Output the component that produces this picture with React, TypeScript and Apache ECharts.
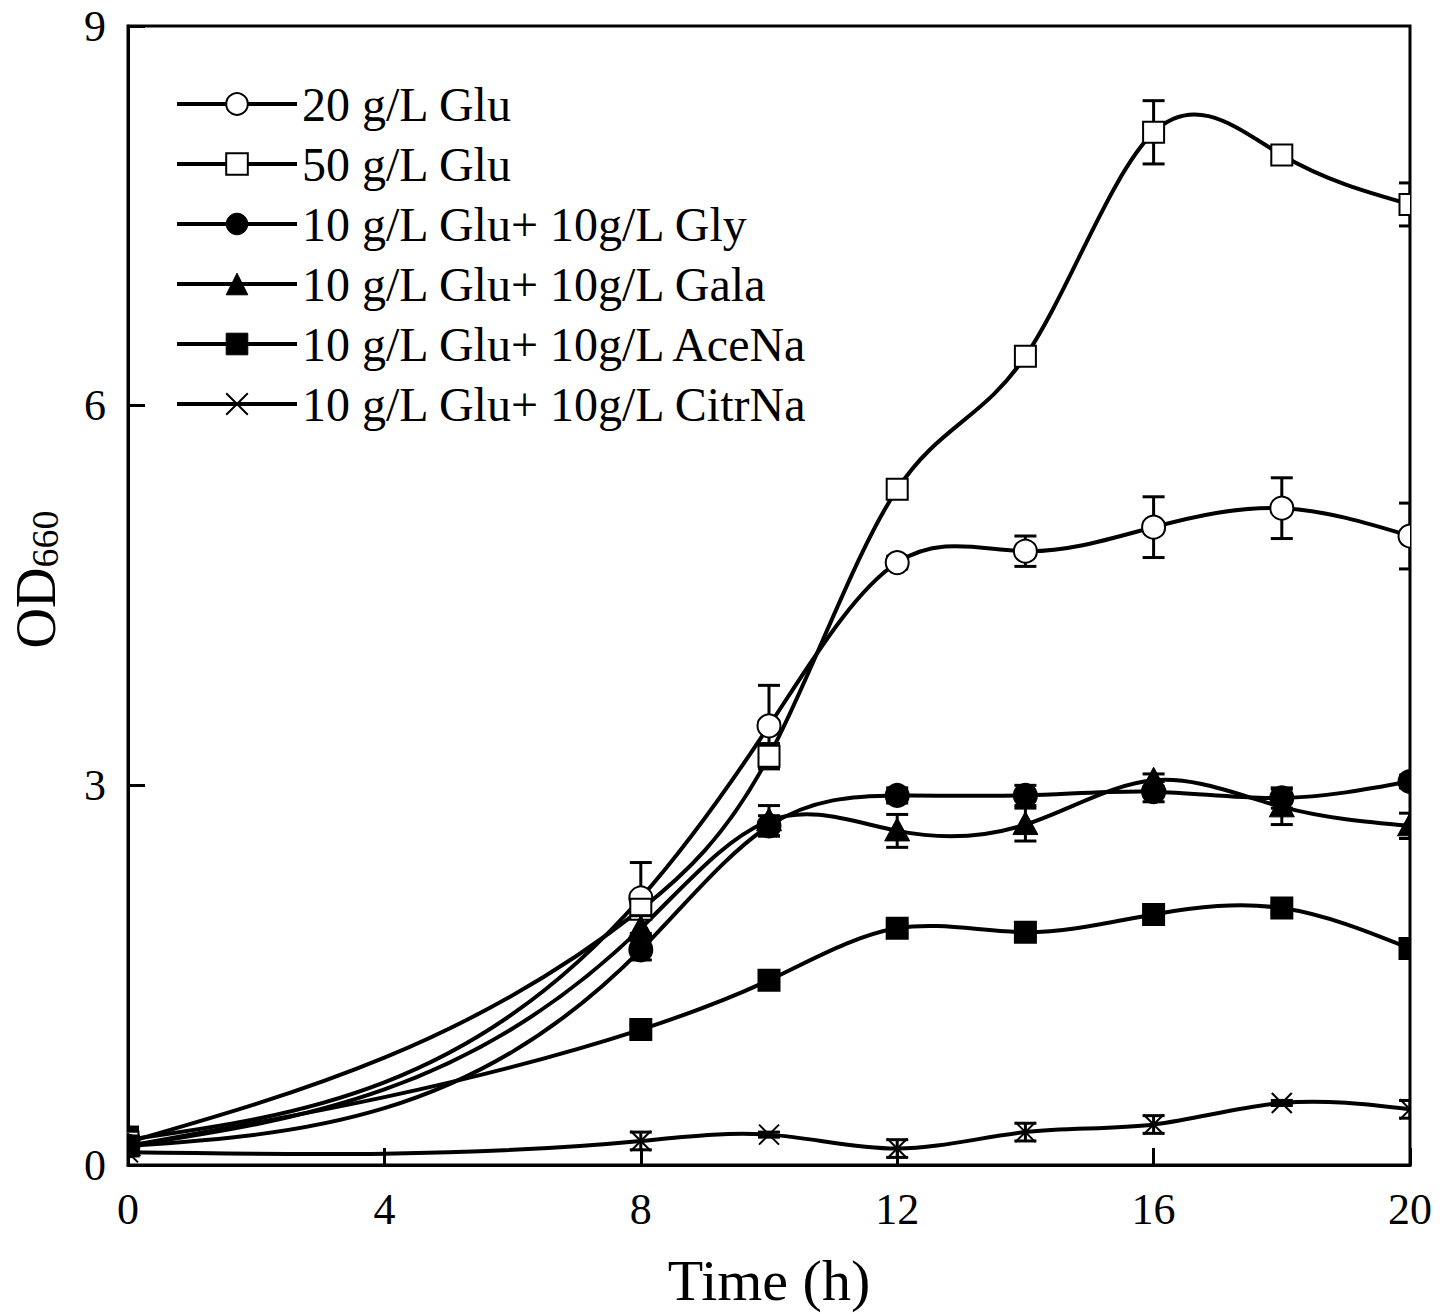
import React, { useEffect, useRef } from "react";
import * as echarts from "echarts";

const times = [0, 8, 10, 12, 14, 16, 18, 20];
const seriesNames = [
  "20 g/L Glu",
  "50 g/L Glu",
  "10 g/L Glu+ 10g/L Gly",
  "10 g/L Glu+ 10g/L Gala",
  "10 g/L Glu+ 10g/L AceNa",
  "10 g/L Glu+ 10g/L CitrNa",
];
const glu20 = [0.2, 2.11, 3.47, 4.76, 4.85, 5.04, 5.19, 4.97];
const glu20Err = [0.1, 0.28, 0.32, 0.05, 0.12, 0.24, 0.24, 0.26];
const glu50 = [0.18, 2.02, 3.23, 5.34, 6.39, 8.16, 7.98, 7.59];
const glu50Err = [0.1, 0.05, 0.1, 0.05, 0.05, 0.25, 0.05, 0.17];
const gly = [0.15, 1.7, 2.68, 2.92, 2.92, 2.95, 2.9, 3.03];
const glyErr = [0.05, 0.08, 0.08, 0.06, 0.08, 0.08, 0.08, 0.05];
const gala = [0.15, 1.87, 2.72, 2.64, 2.69, 3.04, 2.83, 2.68];
const galaErr = [0.05, 0.1, 0.12, 0.13, 0.13, 0.05, 0.14, 0.1];
const aceNa = [0.15, 1.07, 1.46, 1.87, 1.84, 1.98, 2.03, 1.71];
const aceNaErr = [0.02, 0.04, 0.04, 0.04, 0.04, 0.04, 0.04, 0.04];
const citrNa = [0.1, 0.19, 0.24, 0.13, 0.26, 0.32, 0.49, 0.44];
const citrNaErr = [0.02, 0.07, 0.02, 0.07, 0.07, 0.07, 0.02, 0.07];

const allValues = [glu20, glu50, gly, gala, aceNa, citrNa];
const allErrors = [glu20Err, glu50Err, glyErr, galaErr, aceNaErr, citrNaErr];
const markerKinds = ["circleOpen", "rectOpen", "circle", "triangle", "rect", "cross"];

const FONT = "'Liberation Serif', 'Times New Roman', serif";
const CROSS_PATH = "path://M0,0L10,10M0,10L10,0";

function legendSymbol(kind: string) {
  if (kind === "circleOpen" || kind === "circle") return "circle";
  if (kind === "rectOpen" || kind === "rect") return "rect";
  if (kind === "triangle") return "triangle";
  return CROSS_PATH;
}
function legendItemStyle(kind: string) {
  if (kind === "circleOpen" || kind === "rectOpen")
    return { color: "#fff", borderColor: "#000", borderWidth: 2, opacity: 1 };
  if (kind === "cross") return { color: "none", borderColor: "#000", borderWidth: 2, opacity: 1 };
  return { color: "#000", borderColor: "#000", borderWidth: 1, opacity: 1 };
}

// natural cubic spline end slopes for each segment (rendering helper)
function splineSlopes(xs: number[], ys: number[]) {
  const n = xs.length;
  const h: number[] = [];
  for (let i = 0; i < n - 1; i++) h.push(xs[i + 1] - xs[i]);
  const a = new Array(n).fill(0);
  const b = new Array(n).fill(1);
  const c = new Array(n).fill(0);
  const d = new Array(n).fill(0);
  for (let i = 1; i < n - 1; i++) {
    a[i] = h[i - 1];
    b[i] = 2 * (h[i - 1] + h[i]);
    c[i] = h[i];
    d[i] = 6 * ((ys[i + 1] - ys[i]) / h[i] - (ys[i] - ys[i - 1]) / h[i - 1]);
  }
  const cp = new Array(n).fill(0);
  const dp = new Array(n).fill(0);
  cp[0] = c[0] / b[0];
  dp[0] = d[0] / b[0];
  for (let i = 1; i < n; i++) {
    const m = b[i] - a[i] * cp[i - 1];
    cp[i] = c[i] / m;
    dp[i] = (d[i] - a[i] * dp[i - 1]) / m;
  }
  const M = new Array(n).fill(0);
  M[n - 1] = dp[n - 1];
  for (let i = n - 2; i >= 0; i--) M[i] = dp[i] - cp[i] * M[i + 1];
  const seg: { d0: number; d1: number }[] = [];
  for (let i = 0; i < n - 1; i++) {
    const s = (ys[i + 1] - ys[i]) / h[i];
    seg.push({
      d0: s - (h[i] * (2 * M[i] + M[i + 1])) / 6,
      d1: s + (h[i] * (M[i] + 2 * M[i + 1])) / 6,
    });
  }
  return seg;
}

function makeCurveRenderer(xs: number[], ys: number[]) {
  const seg = splineSlopes(xs, ys);
  return (params: any, api: any) => {
    const i = params.dataIndex;
    if (i >= xs.length - 1) return { type: "group", children: [] };
    const x0 = xs[i];
    const x1 = xs[i + 1];
    const y0 = ys[i];
    const y1 = ys[i + 1];
    const hh = x1 - x0;
    const p0 = api.coord([x0, y0]);
    const p1 = api.coord([x0 + hh / 3, y0 + (hh / 3) * seg[i].d0]);
    const p2 = api.coord([x1 - hh / 3, y1 - (hh / 3) * seg[i].d1]);
    const p3 = api.coord([x1, y1]);
    return {
      type: "bezierCurve",
      shape: { x1: p0[0], y1: p0[1], cpx1: p1[0], cpy1: p1[1], cpx2: p2[0], cpy2: p2[1], x2: p3[0], y2: p3[1] },
      style: { stroke: "#000", lineWidth: 4, fill: null },
    };
  };
}

function makeMarkerRenderer(kind: string) {
  return (params: any, api: any) => {
    const x = api.value(0);
    const y = api.value(1);
    const e = api.value(2);
    const c = api.coord([x, y]);
    const top = api.coord([x, y + e]);
    const bot = api.coord([x, y - e]);
    const lw = 3;
    const cap = 11;
    const children: any[] = [
      { type: "line", shape: { x1: c[0], y1: top[1], x2: c[0], y2: bot[1] }, style: { stroke: "#000", lineWidth: lw } },
      { type: "line", shape: { x1: c[0] - cap, y1: top[1], x2: c[0] + cap, y2: top[1] }, style: { stroke: "#000", lineWidth: lw } },
      { type: "line", shape: { x1: c[0] - cap, y1: bot[1], x2: c[0] + cap, y2: bot[1] }, style: { stroke: "#000", lineWidth: lw } },
    ];
    const cx = c[0];
    const cy = c[1];
    if (kind === "circleOpen" || kind === "circle") {
      children.push({
        type: "circle",
        shape: { cx, cy, r: 11.5 },
        style: { fill: kind === "circle" ? "#000" : "#fff", stroke: "#000", lineWidth: 2 },
      });
    } else if (kind === "rectOpen" || kind === "rect") {
      children.push({
        type: "rect",
        shape: { x: cx - 10.5, y: cy - 10.5, width: 21, height: 21 },
        style: { fill: kind === "rect" ? "#000" : "#fff", stroke: "#000", lineWidth: 2 },
      });
    } else if (kind === "triangle") {
      children.push({
        type: "polygon",
        shape: { points: [[cx, cy - 13], [cx - 12.5, cy + 10], [cx + 12.5, cy + 10]] },
        style: { fill: "#000", stroke: "#000", lineWidth: 1 },
      });
    } else {
      children.push(
        { type: "line", shape: { x1: cx - 10, y1: cy - 10, x2: cx + 10, y2: cy + 10 }, style: { stroke: "#000", lineWidth: 2 } },
        { type: "line", shape: { x1: cx - 10, y1: cy + 10, x2: cx + 10, y2: cy - 10 }, style: { stroke: "#000", lineWidth: 2 } }
      );
    }
    return { type: "group", children };
  };
}

export default function App() {
  const ref = useRef<HTMLDivElement>(null);
  useEffect(() => {
    if (!ref.current) return;
    const chart = echarts.init(ref.current, undefined, { renderer: "svg" });

    // line series only carry the legend entries (their own strokes are hidden)
    const legendSeries = seriesNames.map((name, i) => ({
      name,
      type: "line",
      data: times.map((t, j) => [t, allValues[i][j]]),
      showSymbol: false,
      symbol: legendSymbol(markerKinds[i]),
      symbolSize: 20,
      itemStyle: legendItemStyle(markerKinds[i]),
      lineStyle: { color: "#000", width: 4, opacity: 0 },
      silent: true,
      z: 1,
    }));
    const curveSeries = seriesNames.map((name, i) => ({
      name: name + " curve",
      type: "custom",
      renderItem: makeCurveRenderer(times, allValues[i]),
      data: times.map((t, j) => [t, allValues[i][j]]),
      encode: { x: 0, y: 1 },
      clip: true,
      z: 2,
    }));
    const markerSeries = seriesNames.map((name, i) => ({
      name: name + " markers",
      type: "custom",
      renderItem: makeMarkerRenderer(markerKinds[i]),
      data: times.map((t, j) => [t, allValues[i][j], allErrors[i][j]]),
      encode: { x: 0, y: 1 },
      clip: true,
      z: 3,
    }));

    const axisCommon = {
      axisLine: { show: true, lineStyle: { color: "#000", width: 3 } },
      axisTick: { show: true, inside: true, length: 17, lineStyle: { color: "#000", width: 3 } },
      axisLabel: { fontFamily: FONT, fontSize: 44, color: "#000" },
      splitLine: { show: false },
    };

    chart.setOption({
      animation: false,
      backgroundColor: "#fff",
      grid: {
        left: 127,
        right: 42,
        top: 26,
        bottom: 147,
        show: true,
        borderColor: "#000",
        borderWidth: 3,
        backgroundColor: "transparent",
      },
      legend: {
        data: seriesNames.map((name, i) => ({
          name,
          itemStyle: legendItemStyle(markerKinds[i]),
          lineStyle: { color: "#000", width: 4, opacity: 1 },
        })),
        orient: "vertical",
        left: 175,
        top: 80,
        padding: 0,
        itemWidth: 120,
        itemHeight: 27,
        itemGap: 12,
        textStyle: { fontFamily: FONT, fontSize: 48, color: "#000" },
        selectedMode: false,
      },
      xAxis: {
        type: "value",
        min: 0,
        max: 20,
        interval: 4,
        ...axisCommon,
        axisLabel: { ...axisCommon.axisLabel, margin: 22 },
        name: "Time (h)",
        nameLocation: "middle",
        nameGap: 86,
        nameTextStyle: { fontFamily: FONT, fontSize: 58, color: "#000" },
      },
      yAxis: {
        type: "value",
        min: 0,
        max: 9,
        interval: 3,
        ...axisCommon,
        axisLabel: { ...axisCommon.axisLabel, margin: 22 },
        name: "{a|OD}{b|660}",
        nameLocation: "middle",
        nameGap: 64,
        nameTextStyle: {
          fontFamily: FONT,
          color: "#000",
          rich: {
            a: { fontFamily: FONT, fontSize: 56, color: "#000", padding: [0, 0, 0, 32] },
            b: { fontFamily: FONT, fontSize: 38, color: "#000", padding: [18, 0, 0, 0] },
          },
        },
      },
      series: [...legendSeries, ...curveSeries, ...markerSeries],
    });
    return () => chart.dispose();
  }, []);
  return <div ref={ref} style={{ position: "fixed", left: 0, top: 0, width: 1452, height: 1314 }} />;
}
